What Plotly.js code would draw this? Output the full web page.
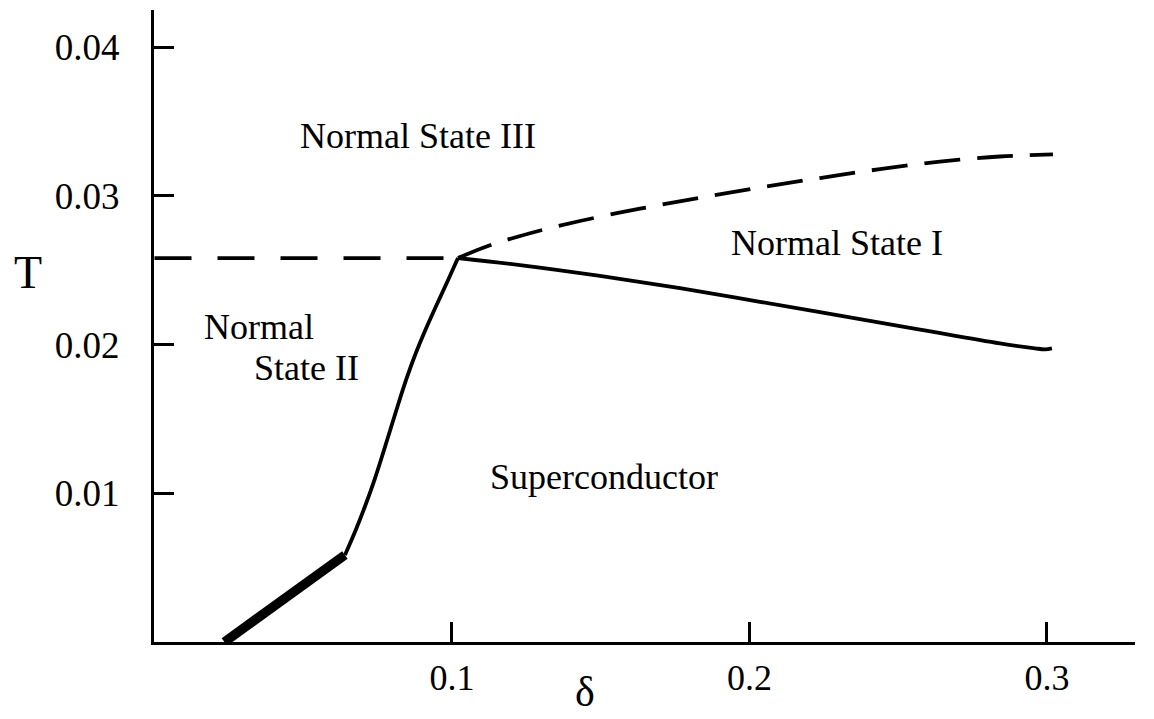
<!DOCTYPE html>
<html>
<head>
<meta charset="utf-8">
<script src="https://cdn.plot.ly/plotly-3.0.1.min.js"></script>
<style>
html,body{margin:0;padding:0;background:#fff;}
#chart{width:1154px;height:719px;}
</style>
</head>
<body>
<div id="chart"></div>
<script>
// Phase boundaries (delta, T)
const thickDelta = [0.0235, 0.0640];
const thickT = [0.0, 0.00585];

const riseDelta = [0.06403, 0.06765, 0.07092, 0.07392, 0.07664, 0.07924, 0.08185, 0.08457, 0.08760, 0.09106, 0.09482, 0.09869, 0.10202];
const riseT = [0.00585, 0.00753, 0.00921, 0.01089, 0.01258, 0.01426, 0.01594, 0.01762, 0.01930, 0.02098, 0.02266, 0.02434, 0.02582];

const fallDelta = [0.10202, 0.12286, 0.14975, 0.17664, 0.20353, 0.23042, 0.25731, 0.28420, 0.29597, 0.29933, 0.30168];
const fallT = [0.02582, 0.02535, 0.02462, 0.02379, 0.02288, 0.02195, 0.02101, 0.02008, 0.01975, 0.01968, 0.01974];

const flatDelta = [0.0, 0.10202];
const flatT = [0.02582, 0.02582];

const upperDelta = [0.10202, 0.11277, 0.12622, 0.14303, 0.16319, 0.18336, 0.20353, 0.22370, 0.24387, 0.26403, 0.28420, 0.30202];
const upperT = [0.02582, 0.02668, 0.02749, 0.02831, 0.02914, 0.02987, 0.03056, 0.03120, 0.03180, 0.03230, 0.03265, 0.03279];

const xTicks = [0.1, 0.2, 0.3];
const xTickText = ['0.1', '0.2', '0.3'];
const yTicks = [0.01, 0.02, 0.03, 0.04];
const yTickText = ['0.01', '0.02', '0.03', '0.04'];

const FONT = 'Liberation Serif, Times New Roman, serif';

const traces = [
  {x: thickDelta, y: thickT, mode: 'lines', line: {color: '#000', width: 9.5}, hoverinfo: 'skip'},
  {x: riseDelta, y: riseT, mode: 'lines', line: {color: '#000', width: 3.8, shape: 'spline', smoothing: 1}, hoverinfo: 'skip'},
  {x: fallDelta, y: fallT, mode: 'lines', line: {color: '#000', width: 3.8, shape: 'spline', smoothing: 1}, hoverinfo: 'skip'},
  {x: flatDelta, y: flatT, mode: 'lines', line: {color: '#000', width: 3.8, dash: '37px,26px'}, hoverinfo: 'skip'},
  {x: upperDelta, y: upperT, mode: 'lines', line: {color: '#000', width: 3.8, dash: '36px,17px', shape: 'spline', smoothing: 1}, hoverinfo: 'skip'}
];

const ann = (text, x, y, xanchor) => ({
  text: text, x: x, y: y, xref: 'x', yref: 'y', showarrow: false,
  xanchor: xanchor || 'center', yanchor: 'middle',
  font: {family: FONT, size: 36, color: '#000'}
});

const layout = {
  width: 1154, height: 719,
  margin: {l: 154, r: 19, t: 10, b: 77},
  paper_bgcolor: '#fff', plot_bgcolor: '#fff',
  showlegend: false,
  font: {family: FONT, color: '#000', size: 36},
  xaxis: {
    range: [-0.00017, 0.3296],
    showgrid: false, zeroline: false,
    showline: true, linecolor: '#000', linewidth: 3,
    ticks: 'inside', ticklen: 20, tickwidth: 3, tickcolor: '#000',
    tickvals: xTicks, ticktext: xTickText,
    tickfont: {family: FONT, size: 36, color: '#000'},
    ticklabelstandoff: 2
  },
  yaxis: {
    range: [0, 0.0425],
    showgrid: false, zeroline: false,
    showline: true, linecolor: '#000', linewidth: 3,
    ticks: 'inside', ticklen: 20, tickwidth: 3, tickcolor: '#000',
    tickvals: yTicks, ticktext: yTickText,
    tickfont: {family: FONT, size: 37, color: '#000'},
    ticklabelstandoff: 24
  },
  annotations: [
    ann('Normal State III', 0.0886, 0.0340),
    ann('Normal', 0.0160, 0.0212, 'left'),
    ann('State II', 0.0328, 0.0184, 'left'),
    ann('Superconductor', 0.1511, 0.0111),
    ann('Normal State I', 0.2294, 0.0268),
    {text: 'T', x: -0.1284, y: 0.584, xref: 'paper', yref: 'paper', showarrow: false,
     xanchor: 'center', yanchor: 'middle', font: {family: FONT, size: 46, color: '#000'}},
    {text: 'δ', x: 0.4393, y: -0.079, xref: 'paper', yref: 'paper', showarrow: false,
     xanchor: 'center', yanchor: 'middle', font: {family: FONT, size: 42, color: '#000'}}
  ]
};

Plotly.newPlot('chart', traces, layout, {displayModeBar: false, staticPlot: true});
</script>
</body>
</html>
